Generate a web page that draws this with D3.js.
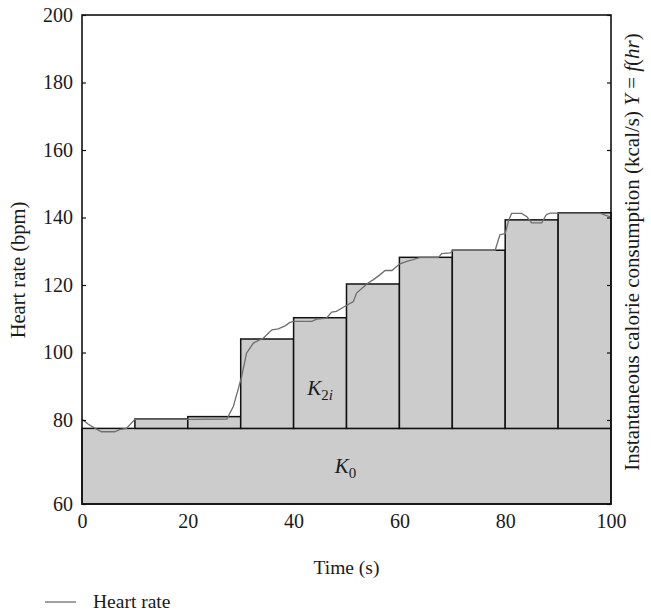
<!DOCTYPE html>
<html>
<head>
<meta charset="utf-8">
<script src="https://cdn.jsdelivr.net/npm/d3@7"></script>
<style>
  body { margin: 0; background: #fff; }
  text { font-family: "Liberation Serif", "DejaVu Serif", serif; fill: #1a1a1a; }
</style>
</head>
<body>
<svg id="chart" width="651" height="616"></svg>
<script>
// step levels K2i (start time of each 10 s block, level in bpm)
const stepStarts = [10, 20, 30, 40, 50, 60, 70, 80, 90];
const stepValues = [80.3, 81, 104, 110.3, 120.3, 128.2, 130.3, 139.3, 141.4];
const baseValue = 78; // K0

// heart rate trace
const hrTime = [0, 1.2, 2.5, 3.7, 6.2, 7.1, 8.4, 10, 20, 27.4, 28.6, 29.5, 30.2, 31.1, 32.4,
  34.3, 35.9, 37.1, 38.4, 39.3, 40, 43.4, 44.4, 46.2, 47.2, 48.1, 49.4, 51.3, 51.9, 53.2,
  54.1, 55.1, 56.3, 57.3, 58.6, 60, 61.4, 62.6, 63.9, 67.4, 68, 69.6, 70.2, 78.1, 79, 80,
  80.6, 81.2, 83.1, 84.1, 85, 86.9, 87.8, 88.5, 97.9, 99.8];
const hrValue = [80.2, 79, 78, 77.2, 77.2, 77.7, 78, 80.2, 80.2, 80.3, 84, 89, 93, 99.8, 102.8,
  104.3, 106.7, 107, 107.9, 108.9, 109.2, 109.2, 109.9, 110.2, 112, 112.2, 113.4, 115.1, 117.6, 119.4,
  120.6, 121.6, 123, 124.3, 124.3, 126.2, 127, 127.5, 128.2, 128.2, 129.3, 129.5, 130.3, 130.3, 134.9, 135.2,
  138.9, 141.2, 141.2, 140.2, 138.4, 138.4, 140.9, 141.3, 141.3, 140.2];

const xTicks = [0, 20, 40, 60, 80, 100];
const yTicks = [60, 80, 100, 120, 140, 160, 180, 200];

const margin = {top: 15, left: 82};
const width = 529;
const height = 489;
const font = "'Liberation Serif', 'DejaVu Serif', serif";

const svg = d3.select("#chart");
const chart = svg.append("g")
  .attr("transform", `translate(${margin.left}, ${margin.top})`);

const xScale = d3.scaleLinear().domain([0, 100]).range([0, width]);
// the source axis has a stretched first interval (60-80)
const yScale = d3.scaleLinear().domain([60, 80, 200]).range([height, 405, 0]);

// K0 base block
chart.append("rect")
  .attr("x", xScale(0))
  .attr("y", yScale(baseValue))
  .attr("width", xScale(100) - xScale(0))
  .attr("height", height - yScale(baseValue))
  .style("fill", "#cccccc")
  .style("stroke", "#111")
  .style("stroke-width", 1.5);

// K2i step blocks
const steps = stepStarts.map((s, i) => ({start: s, value: stepValues[i]}));
chart.selectAll(".step")
  .data(steps)
  .enter()
  .append("rect")
  .attr("class", "step")
  .attr("x", d => xScale(d.start))
  .attr("y", d => yScale(d.value))
  .attr("width", xScale(10) - xScale(0))
  .attr("height", d => yScale(baseValue) - yScale(d.value))
  .style("fill", "#cccccc")
  .style("stroke", "#111")
  .style("stroke-width", 1.5);

// heart rate line
const hr = hrTime.map((t, i) => [t, hrValue[i]]);
chart.append("path")
  .datum(hr)
  .attr("d", d3.line().x(d => xScale(d[0])).y(d => yScale(d[1])))
  .style("fill", "none")
  .style("stroke", "#6e6e6e")
  .style("stroke-width", 1.3);

// axes
const yAxis = chart.append("g")
  .call(d3.axisLeft(yScale).tickValues(yTicks).tickSizeInner(-4).tickSizeOuter(0).tickPadding(9));
const yAxisR = chart.append("g")
  .attr("transform", `translate(${width}, 0)`)
  .call(d3.axisRight(yScale).tickValues(yTicks).tickSizeInner(-4).tickSizeOuter(0).tickFormat(""));
const xAxis = chart.append("g")
  .attr("transform", `translate(0, ${height})`)
  .call(d3.axisBottom(xScale).tickValues(xTicks).tickSize(0).tickPadding(10));

[yAxis, yAxisR, xAxis].forEach(a => {
  a.attr("font-family", font);
  a.select(".domain").remove();
  a.selectAll("text").style("font-size", "20px").style("font-family", font).style("fill", "#1a1a1a");
  a.selectAll("line").style("stroke", "#111").style("stroke-width", 1.2);
});

// frame
chart.append("rect")
  .attr("width", width)
  .attr("height", height)
  .style("fill", "none")
  .style("stroke", "#111")
  .style("stroke-width", 1.6);

// block labels
const k2 = chart.append("text")
  .attr("x", xScale(45))
  .attr("y", yScale(87.5))
  .attr("text-anchor", "middle")
  .style("font-size", "21px");
k2.append("tspan").style("font-style", "italic").text("K");
k2.append("tspan").attr("dy", 5).style("font-size", "15px").text("2");
k2.append("tspan").style("font-size", "15px").style("font-style", "italic").text("i");

const k0 = chart.append("text")
  .attr("x", xScale(49.8))
  .attr("y", yScale(67.3))
  .attr("text-anchor", "middle")
  .style("font-size", "21px");
k0.append("tspan").style("font-style", "italic").text("K");
k0.append("tspan").attr("dy", 5).style("font-size", "15px").text("0");

// axis titles
chart.append("text")
  .attr("x", width / 2)
  .attr("y", height + 70)
  .attr("text-anchor", "middle")
  .style("font-size", "19.5px")
  .text("Time (s)");

chart.append("text")
  .attr("transform", "rotate(-90)")
  .attr("x", -255)
  .attr("y", -57)
  .attr("text-anchor", "middle")
  .style("font-size", "20.5px")
  .text("Heart rate (bpm)");

const rt = chart.append("text")
  .attr("transform", "rotate(-90)")
  .attr("x", -237)
  .attr("y", width + 28)
  .attr("text-anchor", "middle")
  .style("font-size", "21px");
rt.append("tspan").text("Instantaneous calorie consumption (kcal/s) ");
rt.append("tspan").style("font-style", "italic").text("Y");
rt.append("tspan").text(" = ");
rt.append("tspan").style("font-style", "italic").text("f");
rt.append("tspan").text("(");
rt.append("tspan").style("font-style", "italic").text("hr");
rt.append("tspan").text(")");

// legend
const legend = svg.append("g").attr("transform", "translate(45, 602)");
legend.append("line")
  .attr("x1", 0).attr("x2", 31)
  .attr("y1", 0).attr("y2", 0)
  .style("stroke", "#6e6e6e")
  .style("stroke-width", 1.3);
legend.append("text")
  .attr("x", 48)
  .attr("y", 6)
  .style("font-size", "19.5px")
  .text("Heart rate");
</script>
</body>
</html>
